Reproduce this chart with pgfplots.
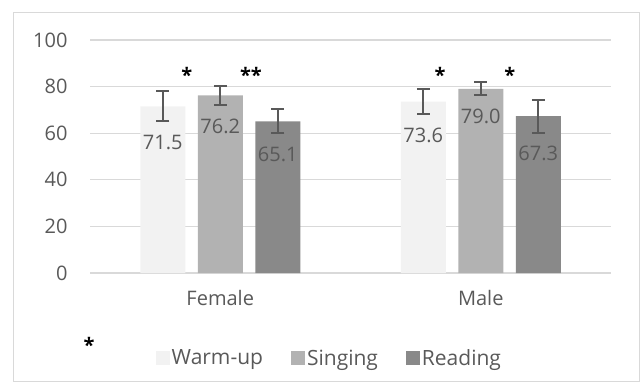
\documentclass[border=0pt]{standalone}
\usepackage{pgfplots}
\pgfplotsset{compat=1.18}
\usepackage{pgfplotstable}
\usepackage{fontspec}
\setmainfont{Open Sans}
\definecolor{txt}{HTML}{595959}
\definecolor{grd}{HTML}{D9D9D9}
\definecolor{cwarm}{HTML}{F2F2F2}
\definecolor{csing}{HTML}{B2B2B2}
\definecolor{cread}{HTML}{898989}
\pgfplotstableread{
x v e
0 71.5 6.4
1 73.6 5.5
}\tWarm
\pgfplotstableread{
x v e
0 76.2 4.2
1 79.0 2.8
}\tSing
\pgfplotstableread{
x v e
0 65.1 5.1
1 67.3 7.0
}\tRead
\pgfplotsset{
  mybar/.style={draw=none,
    point meta=explicit,
    nodes near coords={\pgfmathprintnumber[fixed,zerofill,precision=1]{\pgfkeysvalueof{/data point/y}}},
    every node near coord/.append style={anchor=center, font=\fontsize{20bp}{24bp}\selectfont, text=txt,
      /utils/exec={\pgfmathfloattofixed{\pgfplotspointmeta}\global\let\myerr\pgfmathresult},
      yshift={-(\myerr*2.33+21)*1bp}},
    error bars/.cd, y dir=both, y explicit,
    error bar style={draw=txt, line width=2bp},
    error mark options={rotate=90, mark size=6.5bp, line width=2bp, draw=txt}},
}
\begin{document}
\begin{tikzpicture}[x=1bp,y=1bp]
\useasboundingbox (0,0) rectangle (644,389);
\draw[grd, line width=1bp] (13,8) rectangle (639,376);
\node[font=\fontsize{20bp}{24bp}\selectfont\bfseries, text=black] at (89,44) {*};
\begin{axis}[
  at={(90bp,116bp)}, anchor=south west,
  scale only axis, width=521bp, height=233bp,
  ybar=12.5bp, bar width=45bp,
  xmin=-0.5, xmax=1.5, ymin=0, ymax=100,
  xtick={0,1}, xticklabels={Female,Male},
  ytick={0,20,...,100},
  axis line style={draw=none},
  ymajorgrids, grid style={grd, line width=1.2bp},
  major tick length=0pt,
  clip=false,
  /pgf/number format/assume math mode=true,
  tick label style={font=\fontsize{20bp}{24bp}\selectfont, text=txt},
  yticklabel style={xshift=-19bp},
  xticklabel style={yshift=-14bp},
  legend columns=3,
  legend style={draw=none, fill=none, at={(0.12,-0.365)}, anchor=west,
    font=\fontsize{21bp}{25bp}\selectfont, text=txt,
    nodes={inner xsep=2bp},
    /tikz/every even column/.append style={column sep=26bp}},
  legend image code/.code={\fill[#1] (0bp,-7bp) rectangle (14bp,7bp);},
]
\addplot[fill=cwarm, mybar] table[x=x, y=v, y error=e, meta=e] {\tWarm};
\addlegendentry{Warm-up}
\addplot[fill=csing, mybar] table[x=x, y=v, y error=e, meta=e] {\tSing};
\addlegendentry{Singing}
\addplot[fill=cread, mybar] table[x=x, y=v, y error=e, meta=e] {\tRead};
\addlegendentry{Reading}
\node[font=\fontsize{20bp}{24bp}\selectfont\bfseries, text=black] at (axis cs:-0.128,85) {*};
\node[font=\fontsize{20bp}{24bp}\selectfont\bfseries, text=black] at (axis cs:0.118,85) {**};
\node[font=\fontsize{20bp}{24bp}\selectfont\bfseries, text=black] at (axis cs:0.844,85) {*};
\node[font=\fontsize{20bp}{24bp}\selectfont\bfseries, text=black] at (axis cs:1.112,85) {*};
\end{axis}
\end{tikzpicture}
\end{document}
